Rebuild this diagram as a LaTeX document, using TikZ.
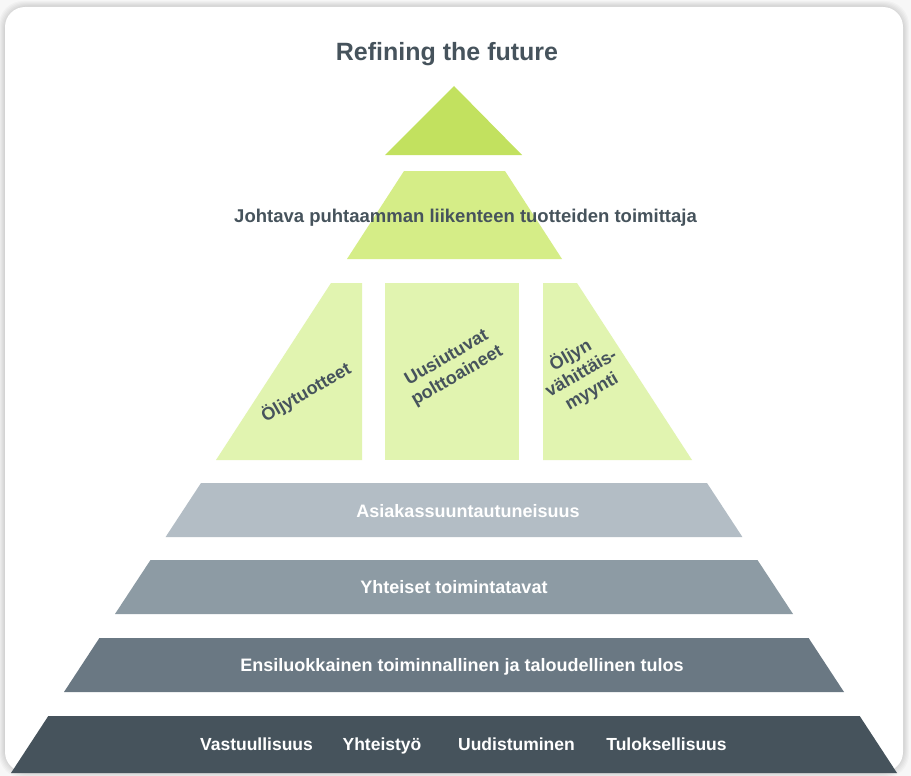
\documentclass[tikz,border=0pt]{standalone}
\usepackage{fontspec}
\setmainfont{Liberation Sans}
\definecolor{bggray}{HTML}{EDEDED}
\definecolor{textdark}{HTML}{46535C}
\definecolor{greenA}{HTML}{C2E15F}
\definecolor{greenB}{HTML}{D5ED87}
\definecolor{greenC}{HTML}{E1F4B0}
\definecolor{grayA}{HTML}{B3BDC5}
\definecolor{grayB}{HTML}{8D9BA4}
\definecolor{grayC}{HTML}{6A7883}
\definecolor{grayD}{HTML}{46535C}
\begin{document}
\begin{tikzpicture}[x=1pt,y=-1pt,
  lbl/.style={font=\bfseries\fontsize{18}{21}\selectfont, anchor=base, inner sep=0pt},
  darklbl/.style={lbl, text=textdark},
  whitelbl/.style={lbl, text=white},
  rotlbl/.style={font=\bfseries\fontsize{18}{21}\selectfont, text=textdark, align=center, rotate=30, inner sep=0pt},
  shadowbox/.style={fill=black, opacity=0.025, rounded corners=#1}
]
\useasboundingbox (0,0) rectangle (911,776);
% background and card
\fill[white!97!black] (0,0) rectangle (911,776);
\foreach \d in {6,5,4,3,2,1}{
  \fill[shadowbox=24pt] (5-\d,7-\d) rectangle (903+\d,772+\d);
}
\fill[white, rounded corners=20pt] (5,7) rectangle (903,772);

% title
\node[darklbl, font=\bfseries\fontsize{25}{30}\selectfont] (title) at (447,61) {Refining the future};

% green levels
\fill[greenA] (385,155) -- (454,86) -- (522,155) -- cycle;
\fill[greenB] (347,259) -- (404,171) -- (505,171) -- (562,259) -- cycle;
\fill[greenC] (216,460) -- (331,283) -- (362,283) -- (362,460) -- cycle;
\fill[greenC] (385,283) rectangle (519,460);
\fill[greenC] (543,283) -- (577,283) -- (692,460) -- (543,460) -- cycle;

\node[darklbl, font=\bfseries\fontsize{18.5}{22}\selectfont] (lead) at (465.5,222) {Johtava puhtaamman liikenteen tuotteiden toimittaja};
\node[rotlbl] (oil) at (306,392) {Öljytuotteet};
\node[rotlbl] (renew) at (452,367) {Uusiutuvat\\polttoaineet};
\node[rotlbl] (retail) at (581,373) {Öljyn\\vähittäis-\\myynti};

% gray levels
\fill[grayA] (165.6,537) -- (201,483) -- (707,483) -- (742.4,537) -- cycle;
\fill[grayB] (115,614) -- (150.5,560) -- (757.5,560) -- (793,614) -- cycle;
\fill[grayC] (64,692) -- (99.4,638) -- (808.6,638) -- (844,692) -- cycle;
\fill[grayD] (11,773) -- (48.3,716) -- (859.7,716) -- (897,773) -- cycle;

\node[whitelbl] (cust) at (468,517) {Asiakassuuntautuneisuus};
\node[whitelbl] (ways) at (454,593.5) {Yhteiset toimintatavat};
\node[whitelbl] (perf) at (462,671) {Ensiluokkainen toiminnallinen ja taloudellinen tulos};
\node[whitelbl, font=\bfseries\fontsize{17.5}{21}\selectfont] (v1) at (256.5,750.5) {Vastuullisuus};
\node[whitelbl, font=\bfseries\fontsize{17.5}{21}\selectfont] (v2) at (382,750.5) {Yhteistyö};
\node[whitelbl, font=\bfseries\fontsize{17.5}{21}\selectfont] (v3) at (516.5,750.5) {Uudistuminen};
\node[whitelbl, font=\bfseries\fontsize{17.5}{21}\selectfont] (v4) at (666.5,750.5) {Tuloksellisuus};
\end{tikzpicture}
\end{document}
